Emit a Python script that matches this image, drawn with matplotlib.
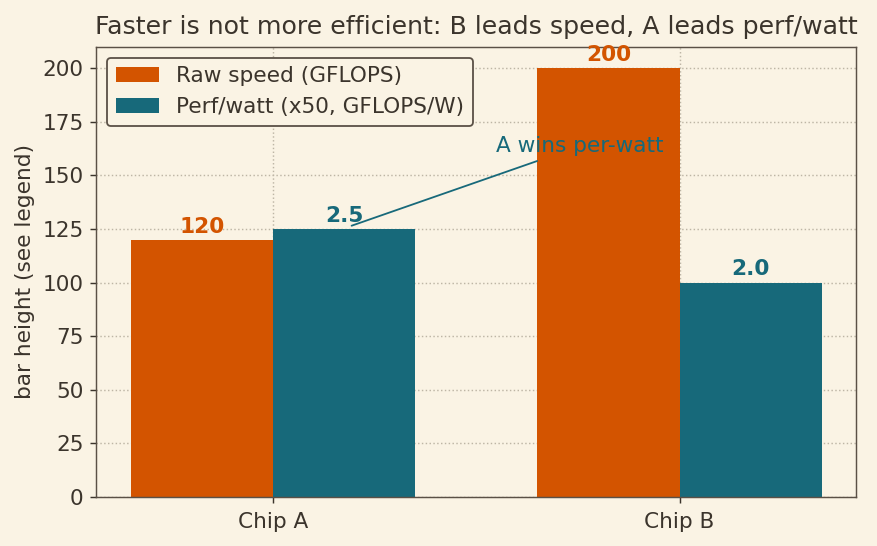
import numpy as np
import matplotlib
matplotlib.use("Agg")
import matplotlib.pyplot as plt

chips = ["Chip A", "Chip B"]
raw_speed = [120, 200]          # GFLOPS
perf_watt = [2.5, 2.0]          # GFLOPS/W
scale = 50

bg = "#faf3e4"
ink = "#3b342c"
orange = "#d35400"
teal = "#17697a"

plt.rcParams.update({
    "font.family": "DejaVu Sans",
    "text.color": ink,
    "axes.labelcolor": ink,
    "xtick.color": ink,
    "ytick.color": ink,
    "axes.edgecolor": "#5a5046",
})

fig, ax = plt.subplots(figsize=(6.75, 4.2), dpi=130)
fig.patch.set_facecolor(bg)
ax.set_facecolor(bg)

x = np.arange(len(chips))
w = 0.35
scaled = [v * scale for v in perf_watt]
b1 = ax.bar(x - w / 2, raw_speed, w, color=orange, label="Raw speed (GFLOPS)", zorder=2)
b2 = ax.bar(x + w / 2, scaled, w, color=teal, label="Perf/watt (x50, GFLOPS/W)", zorder=2)

# value labels above the bars
for rect, v in zip(b1, raw_speed):
    ax.text(rect.get_x() + rect.get_width() / 2, rect.get_height() + 1.5, f"{v}",
            ha="center", va="bottom", color=orange, fontsize=12, fontweight="bold")
for rect, v in zip(b2, perf_watt):
    ax.text(rect.get_x() + rect.get_width() / 2, rect.get_height() + 1.5, f"{v:.1f}",
            ha="center", va="bottom", color=teal, fontsize=12, fontweight="bold")

ax.annotate("A wins per-watt", xy=(x[0] + w / 2 + 0.01, scaled[0] + 1), xytext=(0.754, 159),
            ha="center", va="bottom", color=teal, fontsize=12,
            arrowprops=dict(arrowstyle="-", color=teal, lw=1))

ax.set_xticks(x)
ax.set_xticklabels(chips)
ax.set_ylabel("bar height (see legend)", fontsize=12)
ax.set_title("Faster is not more efficient: B leads speed, A leads perf/watt", fontsize=14, pad=7)
ax.grid(True, linestyle=":", color="#bdb5a5", linewidth=0.8, zorder=0)
ax.set_axisbelow(True)
ax.tick_params(labelsize=12)
ax.tick_params(axis="x", pad=5)
ax.legend(loc="upper left", fontsize=12, facecolor=bg, edgecolor="#5a5046", framealpha=1)

fig.subplots_adjust(left=0.1095, right=0.976, top=0.914, bottom=0.09)
fig.savefig("out.png", facecolor=bg)
